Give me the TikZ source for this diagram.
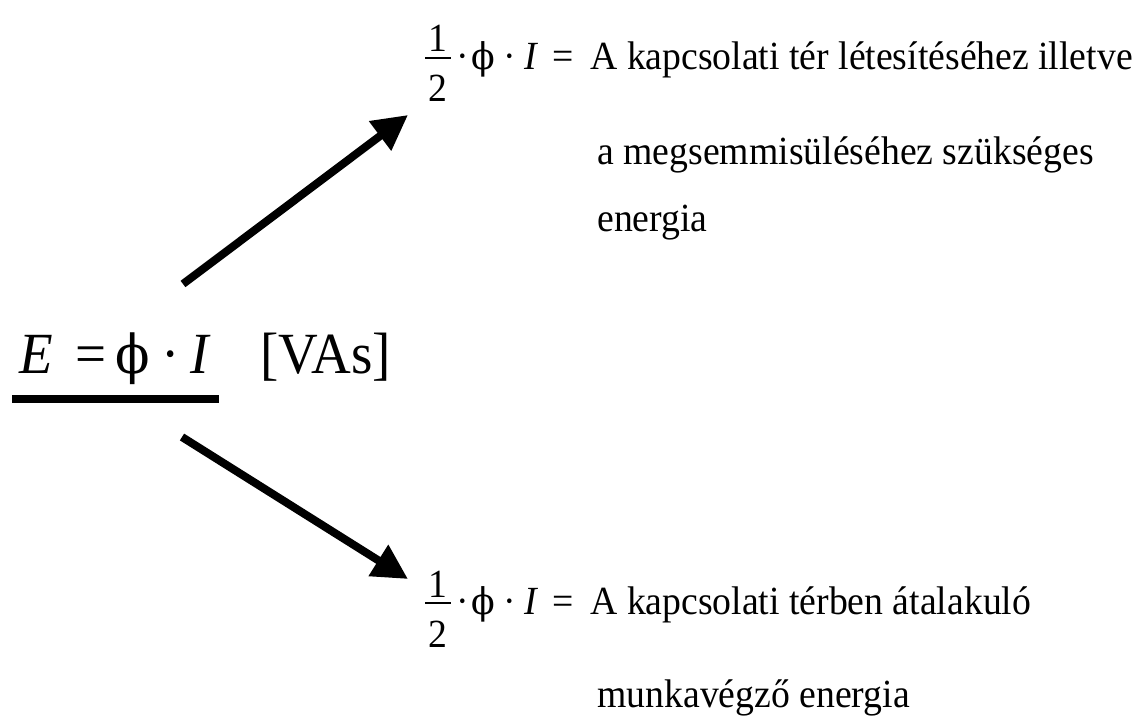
\documentclass[tikz,border=0pt]{standalone}
\usepackage{graphicx}
\usepackage{fontspec}
\setmainfont{Liberation Serif}
\newfontfamily\phifont{DejaVu Serif}[Scale=0.92]
\usetikzlibrary{arrows.meta}
\newcommand\vs[1]{\scalebox{1}[1.06]{#1}}
\tikzset{
  txt/.style={anchor=base west, inner sep=0pt, font=\fontsize{18.85}{22}\selectfont},
  sym/.style={anchor=base, inner sep=0pt, font=\fontsize{18.85}{22}\selectfont},
  big/.style={anchor=base, inner sep=0pt, font=\fontsize{27.5}{32}\selectfont},
  bigw/.style={anchor=base west, inner sep=0pt, font=\fontsize{27.5}{32}\selectfont},
  bigarrow/.style={line width=4pt, -{Triangle[length=17.5pt,width=17.5pt]}},
  fracbar/.style={line width=1pt},
  ubar/.style={line width=4pt},
}
\begin{document}
\begin{tikzpicture}[x=0.5pt,y=-0.5pt]
\useasboundingbox (0,0) rectangle (1137,717);
% main formula
\node[big] (E) at (36.5,373) {\vs{\textit{E}}};
\node[big] (eq) at (91,373) {\vs{=}};
\node[big] (phi) at (132.5,373) {\vs{\phifont ϕ}};
\node[big] (dot) at (171,373) {\vs{·}};
\node[big] (I) at (200.5,373) {\vs{\textit{I}}};
\node[bigw] (unit) at (260,373) {\vs{[VAs]}};
\coordinate (u1) at (12,399);
\coordinate (u2) at (219,399);
\draw[ubar] (u1) -- (u2);
% top formula
\node[sym] (tn) at (438,52) {\vs{1}};
\coordinate (tb1) at (425,58);
\coordinate (tb2) at (451,58);
\draw[fracbar] (tb1) -- (tb2);
\node[sym] (td) at (438,102) {\vs{2}};
\node[sym] (tdot1) at (463,70) {\vs{·}};
\node[sym] (tphi) at (483,70) {\vs{\phifont ϕ}};
\node[sym] (tdot2) at (510,70) {\vs{·}};
\node[sym] (tI) at (532,70) {\vs{\textit{I}}};
\node[sym] (teq) at (563,70) {\vs{=}};
\node[txt] (tt1) at (590,70) {\vs{A kapcsolati tér létesítéséhez illetve}};
\node[txt] (tt2) at (597,165) {\vs{a megsemmisüléséhez szükséges}};
\node[txt] (tt3) at (597,232) {\vs{energia}};
% bottom formula
\node[sym] (bn) at (438,597) {\vs{1}};
\coordinate (bb1) at (425,603);
\coordinate (bb2) at (451,603);
\draw[fracbar] (bb1) -- (bb2);
\node[sym] (bd) at (438,647) {\vs{2}};
\node[sym] (bdot1) at (463,614) {\vs{·}};
\node[sym] (bphi) at (483,614) {\vs{\phifont ϕ}};
\node[sym] (bdot2) at (510,614) {\vs{·}};
\node[sym] (bI) at (532,614) {\vs{\textit{I}}};
\node[sym] (beq) at (563,614) {\vs{=}};
\node[txt] (bt1) at (590,614) {\vs{A kapcsolati térben átalakuló}};
\node[txt] (bt2) at (597,707) {\vs{munkavégző energia}};
% arrows
\coordinate (a1s) at (183,284);
\coordinate (a1e) at (408,115);
\coordinate (a2s) at (182,437);
\coordinate (a2e) at (408,579);
\draw[bigarrow] (a1s) -- (a1e);
\draw[bigarrow] (a2s) -- (a2e);
\end{tikzpicture}
\end{document}
